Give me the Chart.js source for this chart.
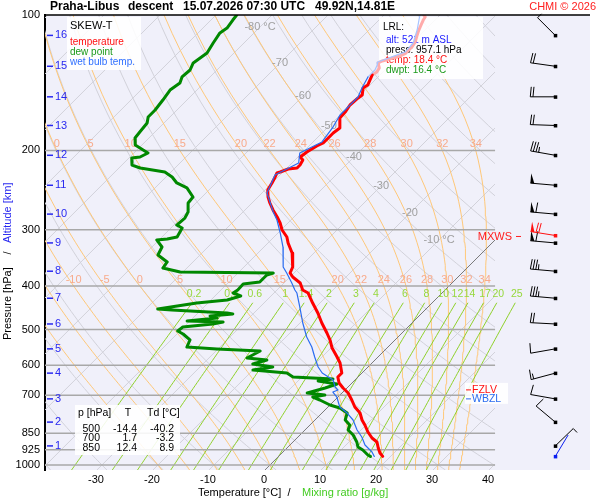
<!DOCTYPE html>
<html>
<head>
<meta charset="utf-8">
<script src="https://cdn.jsdelivr.net/npm/chart.js@4.4.1/dist/chart.umd.min.js"></script>
<style>
  body { margin: 0; background: #fff; }
</style>
</head>
<body>
<canvas id="skewt" width="600" height="500"></canvas>
<script>
// Teplota (hPa, °C)
const tempP = [100, 101, 102.6, 105.3, 108, 111.3, 114.8, 117.8, 121.5, 123.3, 126.5, 127.8, 131.1, 133.9, 135.9, 139.5, 143.1, 145.3, 150.6, 152.9, 158.5, 164.3, 169.4, 178.3, 182.9, 187.6, 192.5, 195.5, 201.6, 206.8, 210, 215.5, 218.8, 219.9, 223.3, 224.4, 229.1, 236.2, 244.9, 253.8, 261.7, 271.2, 281.1, 289.9, 300.5, 311.4, 321.2, 338, 363.1, 374.4, 382.2, 394.1, 408.5, 414.8, 436.6, 459.4, 483.6, 509, 527.5, 549.6, 575.5, 593.4, 624.6, 637.5, 657.4, 674.4, 691.9, 717.1, 743.3, 766.5, 794.4, 815, 844.7, 871.1, 889.1, 916.8, 940.6, 957.1];
const tempT = [-52.9, -52.3, -52.1, -51.6, -51.1, -50.4, -49.6, -49.3, -49.3, -49.8, -52.1, -52.5, -51.4, -51.1, -51.4, -50.9, -50.4, -50.7, -49.6, -49.8, -50.0, -49.6, -49.5, -47.7, -48.0, -48.0, -48.0, -48.6, -49.3, -49.6, -48.6, -48.2, -48.2, -49.6, -50.5, -50.9, -50.5, -50.0, -49.5, -48.2, -46.8, -45.0, -43.0, -41.4, -39.8, -37.7, -36.4, -33.9, -31.3, -30.7, -29.5, -27.1, -25.4, -23.9, -21.3, -18.6, -16.1, -13.4, -11.6, -9.8, -7.3, -5.7, -3.6, -3.6, -2.3, -0.7, 1.1, 3.0, 4.8, 6.8, 8.4, 9.8, 11.6, 13.4, 15.0, 16.3, 17.5, 18.6];

// Rosný bod
const dewP = [100, 102.6, 106.9, 109.6, 115.4, 121.5, 127.8, 132.5, 137.3, 141.6, 146.8, 154.5, 162.6, 168.5, 173.8, 182, 187.6, 194.5, 199.5, 202.6, 206.8, 207.9, 215.5, 218.8, 223.3, 229.1, 236.2, 242.3, 253.8, 261.7, 274, 282.6, 292.9, 297.4, 311.4, 314.6, 316.2, 327.8, 341.5, 353.9, 365, 372.5, 374.4, 378.3, 392.1, 396.1, 408.5, 414.8, 421.1, 429.9, 436.6, 450.1, 452.4, 459.4, 461.8, 466.6, 471.3, 478.7, 481.1, 486, 493.5, 503.8, 511.6, 527.5, 546.8, 552.4, 558.1, 578.4, 584.4, 596.4, 605.7, 615.1, 624.6, 637.5, 644.1, 650.7, 660.7, 674.4, 691.9, 699, 706.2, 717.1, 735.7, 747.1, 766.5, 794.4, 815, 836.1, 857.8, 889.1, 912.1, 926.2, 950.3, 957.1];
const dewT = [-86.3, -86.1, -85.7, -86.1, -85.5, -84.8, -85.5, -84.8, -85.0, -84.3, -84.8, -84.3, -83.9, -83.9, -83.0, -82.7, -82.5, -81.2, -78.9, -77.5, -78.2, -79.5, -78.2, -76.2, -71.1, -68.9, -67.0, -64.3, -61.6, -61.4, -59.8, -59.3, -59.5, -58.0, -57.3, -58.7, -60.4, -58.2, -57.5, -54.6, -54.3, -50.5, -33.7, -34.5, -34.5, -37.1, -37.0, -37.3, -35.4, -37.1, -42.0, -47.9, -45.2, -34.8, -33.6, -37.3, -35.7, -40.5, -33.9, -35.4, -40.2, -40.4, -38.9, -36.6, -35.9, -30.2, -22.1, -23.2, -19.3, -21.1, -17.0, -20.0, -13.4, -11.6, -4.1, -6.4, -2.5, -3.9, -6.2, -2.7, -4.5, -2.7, 0.0, 2.3, 4.5, 5.4, 7.1, 7.7, 9.5, 11.4, 12.5, 13.9, 15.7, 16.4];

// Vlhký teploměr
const wetP = [100, 108, 115.4, 120.8, 127.2, 129.1, 132.5, 137.3, 145.3, 152.1, 162.6, 166.8, 177.4, 191.5, 202.6, 213.3, 226.8, 248.6, 274, 285.5, 305.1, 327.8, 363.1, 374.4, 394.1, 408.5, 414.8, 445.5, 483.6, 519.5, 546.8, 575.5, 605.7, 624.6, 647.4, 671, 681.3, 688.4, 706.2, 743.3, 766.5, 794.4, 836.1, 866.6, 902.9, 935.8, 957.1];
const wetT = [-53.6, -51.4, -49.8, -49.6, -52.7, -52.3, -51.8, -51.8, -50.9, -50.0, -50.0, -50.0, -49.1, -48.4, -50.4, -48.8, -50.9, -49.1, -44.6, -42.5, -39.6, -36.6, -33.0, -31.3, -28.6, -26.8, -25.9, -22.9, -19.5, -16.3, -13.6, -11.3, -8.9, -7.1, -3.9, -2.3, -1.25, -1.8, -0.2, 2.1, 4.5, 6.8, 9.3, 11.4, 13.4, 15.9, 17.1];

// Osy a pomocné čáry
const pressureTicks = [100, 200, 300, 400, 500, 600, 700, 850, 925, 1000];
const isobars = [200, 300, 400, 500, 600, 700, 850, 925, 1000];
const tempTicks = [-30, -20, -10, 0, 10, 20, 30, 40];
const altKm = [16, 15, 14, 13, 12, 11, 10, 9, 8, 7, 6, 5, 4, 3, 2, 1];
const altP = [111, 130, 152, 176, 205, 239, 277, 321, 371, 426, 486, 552, 625, 713, 803, 907];
const isoLabelT = [-80, -70, -60, -50, -40, -30, -20, -10];
const isoLabelP = [106.3, 127.8, 151.3, 176.6, 206.8, 239.8, 275.4, 316.2];
const moistTheta = [-20, -15, -10, -5, 0, 5, 10, 15, 20, 22, 24, 26, 28, 30, 32, 34];
const moistLabelP = [200, 400];
const mixRatios = [0.2, 0.4, 0.6, 1, 1.4, 2, 3, 4, 6, 8, 10, 12, 14, 17, 20, 25];
const mixTopP = 430;

// Vítr (hladiny po 1 km, směr °, rychlost kt)
const barbP = altP;
const barbDir = [315, 278, 270, 272, 280, 275, 275, 275, 275, 275, 273, 260, 255, 280, 310, 46];
const barbSpd = [5, 20, 20, 20, 35, 50, 60, 60, 35, 35, 20, 10, 15, 10, 10, 5];
const sfcWind = [957.1, 31, 0];
const maxWind = [309, 279, 70];

// Hladiny nulové izotermy a nulové teploty vlhkého teploměru
const levelNames = ['FZLV', 'WBZL'];
const levelP = [681, 713];

// Texty
const tableHead = ['p [hPa]', 'T', 'Td [°C]'];
const tableRows = [['500', '-14.4', '-40.2'], ['700', '1.7', '-3.2'], ['850', '12.4', '8.9']];
const lrlLines = ['alt: 521 m ASL', 'press: 957.1 hPa', 'temp: 18.4 °C', 'dwpt: 16.4 °C'];

const FONT = '"Liberation Sans", Arial, sans-serif';
const SKEW = 34.9;
const P_REF = 1031;
const P_TOP = 100, P_BOT = 1026;
const X_MIN = -39.1, X_MAX = 58.2, X_CLIP = 41.25, X_BARB = 52;

// Zkosená souřadnice x pro teplotu t v hladině p
function sx(t, p) {
  return t + SKEW * Math.log(P_REF / p);
}

function profile(ps, ts) {
  const n = Math.min(ps.length, ts.length);
  const out = [];
  for (let i = 0; i < n; i++) out.push({ x: sx(ts[i], ps[i]), y: ps[i] });
  return out;
}

// Pseudoadiabata
function lapse(T, p) {
  const Rd = 287.04, cp = 1005.7, L = 2.501e6, eps = 0.622;
  const t = T - 273.15;
  const e = 6.112 * Math.exp(17.67 * t / (t + 243.5));
  const rs = eps * e / (p - e);
  return (Rd * T + L * rs) / (p * (cp + L * L * rs * eps / (Rd * T * T)));
}

function moistLine(thw) {
  const step = (T, p, h) => {
    const k1 = lapse(T, p);
    const k2 = lapse(T + h * k1 / 2, p + h / 2);
    const k3 = lapse(T + h * k2 / 2, p + h / 2);
    const k4 = lapse(T + h * k3, p + h);
    return T + h * (k1 + 2 * k2 + 2 * k3 + k4) / 6;
  };
  const down = [];
  let T = thw + 273.15, p = 1000;
  while (p < P_BOT) { T = step(T, p, 2); p += 2; down.push({ p, t: T }); }
  const up = [{ p: 1000, t: thw + 273.15 }];
  T = thw + 273.15; p = 1000;
  while (p > P_TOP) { T = step(T, p, -2); p -= 2; if (p % 10 === 0) up.push({ p, t: T }); }
  return down.reverse().concat(up).map(o => ({ x: sx(o.t - 273.15, o.p), y: o.p }));
}

function dewFromMix(w, p) {
  const e = w * p / (622 + w);
  const l = Math.log(e / 6.112);
  return 243.5 * l / (17.67 - l);
}

function lineDs(label, data, color, width, order, clipRight) {
  return {
    label, data, showLine: true, borderColor: color, borderWidth: width,
    pointRadius: 0, fill: false, order,
    clip: { left: 0, top: 0, right: clipRight, bottom: 0 }
  };
}

const datasets = [];

// Profily
const tempDs = lineDs('temperature', profile(tempP, tempT), '#ff0000', 3, 1, 3);
tempDs.segment = { borderColor: c => (c.p0.parsed.y < 134 ? '#ffabab' : '#ff0000') };
const dewDs = lineDs('dew point', profile(dewP, dewT), '#008800', 3, 2, 3);
const wetDs = lineDs('wet bulb', profile(wetP, wetT), '#2a6cf0', 1.2, 0, 3);
wetDs.segment = { borderColor: c => (c.p0.parsed.y < 133 ? '#a8c4ff' : '#2a6cf0') };
[tempDs, dewDs, wetDs].forEach(d => { d.borderJoinStyle = 'round'; d.borderCapStyle = 'round'; });
datasets.push(tempDs, dewDs, wetDs);

// Izobary
isobars.forEach(p => {
  datasets.push(lineDs('isobar', [{ x: X_MIN, y: p }, { x: X_CLIP, y: p }], '#a8a8a8', 1.5, 5, 0));
});

// Izotermy
for (let t = -120; t <= 40; t += 10) {
  const col = t === 0 ? '#7a7a7a' : '#d2d2da';
  datasets.push(lineDs('isotherm', [{ x: sx(t, P_BOT), y: P_BOT }, { x: sx(t, P_TOP), y: P_TOP }], col, 1, t === 0 ? 6 : 20, -95));
}

// Suché adiabaty
for (let th = -40; th <= 180; th += 10) {
  const pts = [];
  for (let p = P_BOT; p >= P_TOP; p -= 10) {
    const t = (th + 273.15) * Math.pow(p / 1000, 0.2857) - 273.15;
    pts.push({ x: sx(t, p), y: p });
  }
  pts.push({ x: sx((th + 273.15) * Math.pow(0.1, 0.2857) - 273.15, P_TOP), y: P_TOP });
  datasets.push(lineDs('dry', pts, '#d2d2da', 1, 20, -95));
}

// Nasycené adiabaty
const moistCurves = moistTheta.map(moistLine);
moistCurves.forEach(pts => datasets.push(lineDs('moist', pts, '#ffc879', 1, 15, -95)));

// Izolinie směšovacího poměru
mixRatios.forEach(w => {
  const pts = [];
  for (let p = P_BOT; p >= mixTopP; p -= 10) pts.push({ x: sx(dewFromMix(w, p), p), y: p });
  datasets.push(lineDs('mix', pts, '#8fd12a', 1, 12, 0));
});

function curveXAt(pts, p) {
  for (let i = 1; i < pts.length; i++) {
    const a = pts[i - 1], b = pts[i];
    if ((a.y - p) * (b.y - p) <= 0) {
      const f = (Math.log(p) - Math.log(a.y)) / (Math.log(b.y) - Math.log(a.y));
      return a.x + f * (b.x - a.x);
    }
  }
  return null;
}

function drawBarb(ctx, x0, y0, dir, spd, color) {
  const len = 25, blen = 10, gap = 2.7;
  const a = dir * Math.PI / 180;
  const dx = Math.sin(a), dy = -Math.cos(a);
  const bx = -dy, by = dx;
  const tx = x0 + dx * len, ty = y0 + dy * len;
  ctx.strokeStyle = color;
  ctx.fillStyle = color;
  ctx.lineWidth = 1;
  ctx.beginPath(); ctx.moveTo(x0, y0); ctx.lineTo(tx, ty); ctx.stroke();
  ctx.fillRect(x0 - 1.5, y0 - 1.5, 3.5, 3.5);
  let s = Math.round(spd / 5) * 5;
  let pos = 0;
  while (s >= 50) {
    const px = tx - dx * pos, py = ty - dy * pos;
    ctx.beginPath();
    ctx.moveTo(px, py);
    ctx.lineTo(px + bx * blen, py + by * blen);
    ctx.lineTo(px - dx * 4, py - dy * 4);
    ctx.closePath(); ctx.fill();
    pos += 5.5; s -= 50;
  }
  while (s >= 10) {
    const px = tx - dx * pos, py = ty - dy * pos;
    ctx.beginPath(); ctx.moveTo(px, py); ctx.lineTo(px + bx * blen - dx, py + by * blen - dy); ctx.stroke();
    pos += gap; s -= 10;
  }
  if (s >= 5) {
    const px = tx - dx * pos, py = ty - dy * pos;
    ctx.beginPath(); ctx.moveTo(px, py); ctx.lineTo(px + bx * 5.5, py + by * 5.5); ctx.stroke();
  }
}

function box(ctx, x, y, w, h) {
  ctx.fillStyle = 'rgba(255,255,255,0.88)';
  ctx.fillRect(x, y, w, h);
}

function txt(ctx, s, x, y, color, size, align, bold) {
  ctx.font = (bold ? 'bold ' : '') + size + 'px ' + FONT;
  ctx.fillStyle = color;
  ctx.textAlign = align || 'left';
  ctx.textBaseline = 'middle';
  ctx.fillText(s, x, y);
}

// Popisky a rámečky, které leží pod profily
function drawUnderlay(chart) {
  const ctx = chart.ctx;
  const xs = chart.scales.x, ys = chart.scales.y;
  ctx.save();

  // popisky izoterm
  isoLabelT.forEach((t, i) => {
    const s = (i === 0 || i === isoLabelT.length - 1) ? t + ' °C' : String(t);
    txt(ctx, s, xs.getPixelForValue(sx(t, isoLabelP[i])), ys.getPixelForValue(isoLabelP[i]), '#a0a0a0', 11, 'center');
  });

  // popisky nasycených adiabat
  moistLabelP.forEach(p => {
    moistCurves.forEach((pts, i) => {
      const x = curveXAt(pts, p);
      if (x === null) return;
      const px = xs.getPixelForValue(x);
      if (px < 47 || px > 490) return;
      txt(ctx, String(moistTheta[i]), px, ys.getPixelForValue(p) - 6, '#f8ab8c', 11, 'center');
    });
  });

  // popisky směšovacího poměru
  mixRatios.forEach(w => {
    const px = xs.getPixelForValue(sx(dewFromMix(w, mixTopP), mixTopP));
    txt(ctx, String(w), px, ys.getPixelForValue(mixTopP) - 6, '#96d83c', 10.5, 'center');
  });

  // výšky v km
  altKm.forEach((k, i) => {
    const y = ys.getPixelForValue(altP[i]);
    ctx.strokeStyle = '#2828f0'; ctx.lineWidth = 1.5;
    ctx.beginPath(); ctx.moveTo(47, y); ctx.lineTo(53, y); ctx.stroke();
    txt(ctx, String(k), 55, y, '#2828f0', 11);
  });

  // legenda
  box(ctx, 67, 17, 74, 53);
  txt(ctx, 'SKEW-T', 70, 26, '#000', 11);
  txt(ctx, 'temperature', 70, 42, '#ff1010', 10);
  txt(ctx, 'dew point', 70, 52, '#1a9a1a', 10);
  txt(ctx, 'wet bulb temp.', 70, 62, '#2f6fff', 10);

  // LRL
  box(ctx, 379, 17, 104, 62);
  txt(ctx, 'LRL:', 383, 27, '#000', 10);
  const lrlCol = ['#1c1cff', '#000', '#ff1010', '#1a9a1a'];
  lrlLines.forEach((s, i) => txt(ctx, s, 386, 40 + i * 10, lrlCol[i], 10));

  // tabulka
  box(ctx, 75, 405, 105, 50);
  txt(ctx, tableHead[0], 78, 413, '#000', 10.5);
  txt(ctx, tableHead[1], 128, 413, '#000', 10.5, 'center');
  txt(ctx, tableHead[2], 147, 413, '#000', 10.5);
  tableRows.forEach((r, i) => {
    const y = 429 + i * 9.5;
    txt(ctx, r[0], 100, y, '#000', 10.5, 'right');
    txt(ctx, r[1], 137, y, '#000', 10.5, 'right');
    txt(ctx, r[2], 174, y, '#000', 10.5, 'right');
  });

  // FZLV / WBZL
  box(ctx, 465, ys.getPixelForValue(levelP[0]) - 7, 43, 21);
  const lvCol = ['#ff1010', '#2a6cf0'];
  levelNames.forEach((n, i) => {
    const y = ys.getPixelForValue(levelP[i]);
    ctx.strokeStyle = lvCol[i]; ctx.lineWidth = 1;
    ctx.beginPath(); ctx.moveTo(466, y); ctx.lineTo(471, y); ctx.stroke();
    txt(ctx, n, 472, y, lvCol[i], 10.5);
  });

  ctx.restore();
}

const skewtDecor = {
  id: 'skewtDecor',
  beforeDraw(chart) {
    const { ctx, chartArea: a } = chart;
    ctx.save();
    ctx.fillStyle = '#ffffff';
    ctx.fillRect(0, 0, chart.width, chart.height);
    ctx.fillStyle = '#f0f0fa';
    ctx.fillRect(a.left, a.top, a.right - a.left, a.bottom - a.top);
    ctx.restore();
  },
  beforeDatasetDraw(chart, args) {
    if (chart.data.datasets[args.index].label === 'dew point') drawUnderlay(chart);
  },
  afterDraw(chart) {
    const ctx = chart.ctx;
    const a = chart.chartArea;
    const xs = chart.scales.x, ys = chart.scales.y;
    ctx.save();

    // horní rámeček
    ctx.strokeStyle = '#000'; ctx.lineWidth = 1.5;
    ctx.beginPath(); ctx.moveTo(a.left, a.top); ctx.lineTo(a.right, a.top); ctx.stroke();

    // titulek
    txt(ctx, 'Praha-Libus', 50, 7, '#000', 12, 'left', true);
    txt(ctx, 'descent', 128, 7, '#000', 12, 'left', true);
    txt(ctx, '15.07.2026 07:30 UTC', 183, 7, '#000', 12, 'left', true);
    txt(ctx, '49.92N,14.81E', 315, 7, '#000', 12, 'left', true);
    txt(ctx, 'CHMI © 2026', 596, 7, '#ff2020', 11, 'right');

    // názvy os
    txt(ctx, 'Temperature [°C]', 198, 493, '#000', 11);
    txt(ctx, '/', 289, 493, '#000', 11, 'center');
    txt(ctx, 'Mixing ratio [g/kg]', 302, 493, '#44cc22', 11);
    ctx.save();
    ctx.translate(8, 340);
    ctx.rotate(-Math.PI / 2);
    txt(ctx, 'Pressure [hPa]', 0, 0, '#000', 11);
    txt(ctx, '/', 87, 0, '#000', 11, 'center');
    txt(ctx, 'Altitude [km]', 97, 0, '#2828f0', 11);
    ctx.restore();

    // vítr
    const bx = xs.getPixelForValue(X_BARB);
    barbP.forEach((p, i) => drawBarb(ctx, bx, ys.getPixelForValue(p), barbDir[i], barbSpd[i], '#000'));
    drawBarb(ctx, bx, ys.getPixelForValue(sfcWind[0]), sfcWind[1], sfcWind[2], '#0a1ef0');
    const my = ys.getPixelForValue(maxWind[0]);
    drawBarb(ctx, bx, my, maxWind[1], maxWind[2], '#ff1010');
    txt(ctx, 'MXWS', 512, my + 1, '#ff2020', 11, 'right');
    ctx.strokeStyle = '#ff2020'; ctx.lineWidth = 1;
    ctx.beginPath(); ctx.moveTo(516, my + 1); ctx.lineTo(521, my + 1); ctx.stroke();

    ctx.restore();
  }
};

new Chart(document.getElementById('skewt').getContext('2d'), {
  type: 'scatter',
  data: { datasets },
  options: {
    responsive: false,
    animation: false,
    events: [],
    layout: { padding: { top: 15, right: 10, left: 0, bottom: 0 } },
    plugins: { legend: { display: false }, tooltip: { enabled: false } },
    scales: {
      x: {
        type: 'linear', min: X_MIN, max: X_MAX,
        grid: { display: false, drawTicks: false },
        border: { display: false },
        afterBuildTicks: s => { s.ticks = tempTicks.map(v => ({ value: v })); },
        afterFit: s => { s.height = 30; },
        ticks: { padding: 3, color: '#000', autoSkip: false, maxRotation: 0, font: { family: FONT, size: 11 }, callback: v => String(v) }
      },
      y: {
        type: 'logarithmic', reverse: true, min: P_TOP, max: P_BOT,
        grid: { display: false, drawTicks: false },
        border: { display: true, color: '#000', width: 2 },
        afterBuildTicks: s => { s.ticks = pressureTicks.map(v => ({ value: v })); },
        afterFit: s => { s.width = 45; },
        ticks: { padding: 5, color: '#000', autoSkip: false, font: { family: FONT, size: 11 }, callback: v => String(v) }
      }
    }
  },
  plugins: [skewtDecor]
});
</script>
</body>
</html>
